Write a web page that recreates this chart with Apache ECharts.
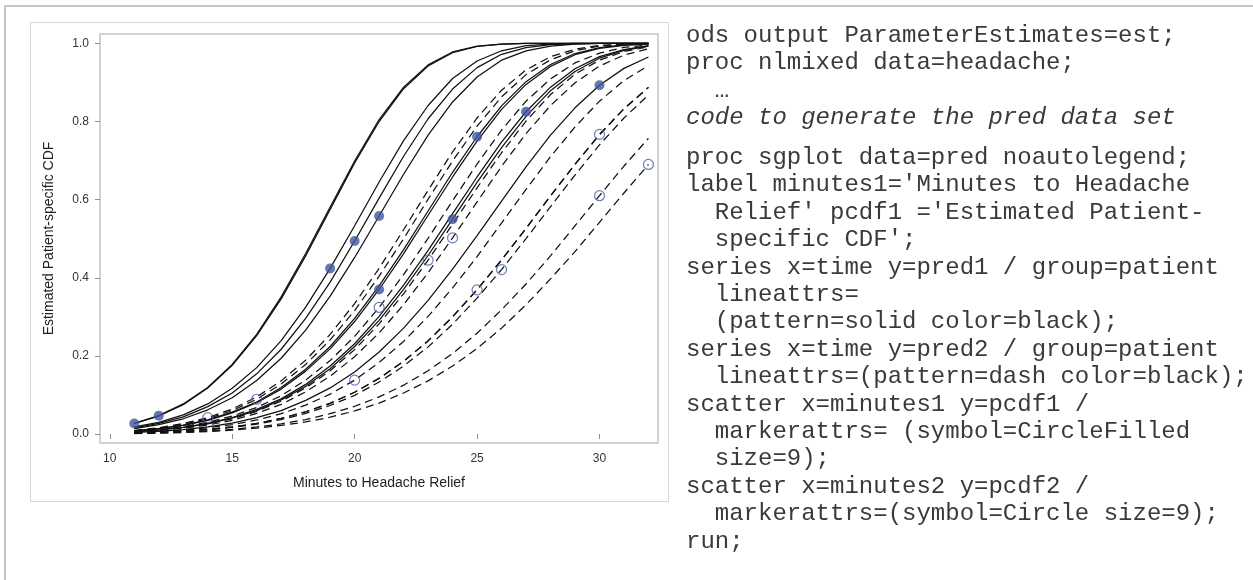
<!DOCTYPE html>
<html>
<head>
<meta charset="utf-8">
<title>Estimated Patient-specific CDF</title>
<script src="https://cdn.jsdelivr.net/npm/echarts@6/dist/echarts.min.js"></script>
<style>
  html, body { margin: 0; padding: 0; background: #fff; }
  #page { position: relative; width: 1253px; height: 580px; overflow: hidden; }
  #frame { position: absolute; left: 4px; top: 5px; width: 1300px; height: 700px;
           border-top: 2px solid #c6c6c6; border-left: 2px solid #c6c6c6; }
  #box { position: absolute; left: 30px; top: 22px; width: 639px; height: 480px;
         box-sizing: border-box; border: 1px solid #d6d6d6; }
  #chart { position: absolute; left: 0; top: 0; width: 1253px; height: 580px; }
  pre.code { position: absolute; left: 686px; margin: 0; font-family: "Liberation Mono", "Courier New", monospace;
             font-size: 24px; line-height: 27.4px; color: #3a3a3a; white-space: pre; }
  #code1 { top: 22px; }
  #code2 { top: 144px; }
</style>
</head>
<body>
<div id="page">
  <div id="frame"></div>
  <div id="box"></div>
  <div id="chart"></div>
<pre class="code" id="code1">ods output ParameterEstimates=est;
proc nlmixed data=headache;
  …
<i>code to generate the pred data set</i></pre>
<pre class="code" id="code2">proc sgplot data=pred noautolegend;
label minutes1='Minutes to Headache
  Relief' pcdf1 ='Estimated Patient-
  specific CDF';
series x=time y=pred1 / group=patient
  lineattrs=
  (pattern=solid color=black);
series x=time y=pred2 / group=patient
  lineattrs=(pattern=dash color=black);
scatter x=minutes1 y=pcdf1 /
  markerattrs= (symbol=CircleFilled
  size=9);
scatter x=minutes2 y=pcdf2 /
  markerattrs=(symbol=Circle size=9);
run;</pre>
</div>
<script>
// time grid shared by every predicted curve
const minutes = [11,12,13,14,15,16,17,18,19,20,21,22,23,24,25,26,27,28,29,30,31,32];

// group 1 patients (solid curves), labelled by minutes to relief (c = censored)
const p1_t11  = [0.027,0.046,0.075,0.118,0.176,0.252,0.346,0.456,0.575,0.694,0.800,0.884,0.942,0.976,0.992,0.998,1.000,1.000,1.000,1.000,1.000,1.000];
const p1_t12  = [0.027,0.047,0.077,0.119,0.178,0.255,0.351,0.462,0.581,0.699,0.805,0.888,0.945,0.978,0.993,0.998,1.000,1.000,1.000,1.000,1.000,1.000];
const p1_t19  = [0.018,0.030,0.049,0.077,0.117,0.170,0.239,0.325,0.424,0.533,0.645,0.751,0.841,0.910,0.955,0.981,0.994,0.998,1.000,1.000,1.000,1.000];
const p1_t20  = [0.016,0.027,0.044,0.070,0.105,0.154,0.217,0.296,0.389,0.494,0.604,0.711,0.807,0.883,0.938,0.972,0.989,0.997,0.999,1.000,1.000,1.000];
const p1_t21  = [0.014,0.024,0.039,0.062,0.093,0.137,0.194,0.266,0.353,0.452,0.558,0.665,0.765,0.850,0.914,0.957,0.981,0.993,0.998,1.000,1.000,1.000];
const p1_t21c = [0.008,0.014,0.022,0.035,0.054,0.080,0.115,0.161,0.218,0.288,0.370,0.462,0.560,0.658,0.750,0.831,0.895,0.941,0.971,0.987,0.995,0.999];
const p1_t24c = [0.006,0.010,0.017,0.026,0.041,0.060,0.087,0.122,0.167,0.224,0.291,0.370,0.457,0.550,0.644,0.733,0.813,0.879,0.928,0.962,0.982,0.993];
const p1_t25  = [0.008,0.014,0.023,0.036,0.056,0.082,0.119,0.166,0.224,0.296,0.379,0.472,0.571,0.670,0.761,0.840,0.902,0.946,0.974,0.989,0.996,0.999];
const p1_t27  = [0.006,0.011,0.017,0.027,0.042,0.063,0.090,0.127,0.174,0.231,0.301,0.381,0.470,0.564,0.658,0.747,0.825,0.888,0.935,0.966,0.984,0.994];
const p1_t30  = [0.004,0.007,0.011,0.018,0.028,0.042,0.060,0.086,0.118,0.159,0.210,0.271,0.342,0.422,0.508,0.596,0.684,0.765,0.835,0.893,0.936,0.965];

// group 2 patients (dashed curves)
const p2_t14  = [0.009,0.016,0.027,0.042,0.064,0.095,0.136,0.189,0.255,0.334,0.424,0.523,0.624,0.722,0.809,0.880,0.932,0.966,0.985,0.995,0.998,1.000];
const p2_t16  = [0.009,0.015,0.025,0.039,0.060,0.089,0.128,0.178,0.241,0.316,0.404,0.500,0.601,0.699,0.788,0.863,0.920,0.958,0.981,0.993,0.998,0.999];
const p2_t20c = [0.003,0.006,0.010,0.016,0.024,0.036,0.052,0.074,0.102,0.138,0.183,0.237,0.301,0.374,0.454,0.540,0.626,0.710,0.786,0.852,0.905,0.943];
const p2_t21  = [0.007,0.011,0.019,0.030,0.046,0.068,0.098,0.138,0.188,0.250,0.324,0.408,0.501,0.597,0.691,0.778,0.852,0.909,0.950,0.975,0.990,0.996];
const p2_t23  = [0.006,0.010,0.016,0.026,0.039,0.058,0.084,0.118,0.162,0.216,0.282,0.359,0.445,0.537,0.630,0.720,0.801,0.869,0.921,0.957,0.979,0.991];
const p2_t24  = [0.005,0.009,0.015,0.023,0.035,0.053,0.076,0.108,0.148,0.198,0.259,0.331,0.413,0.502,0.594,0.685,0.769,0.841,0.899,0.942,0.970,0.986];
const p2_t25c = [0.003,0.005,0.007,0.012,0.018,0.027,0.040,0.057,0.078,0.107,0.142,0.186,0.238,0.300,0.369,0.445,0.526,0.609,0.690,0.766,0.832,0.887];
const p2_t26c = [0.002,0.004,0.007,0.011,0.017,0.025,0.037,0.053,0.073,0.099,0.133,0.174,0.223,0.281,0.348,0.421,0.500,0.582,0.663,0.740,0.809,0.868];
const p2_t30  = [0.003,0.005,0.008,0.012,0.018,0.027,0.040,0.057,0.079,0.107,0.143,0.186,0.239,0.300,0.370,0.446,0.527,0.610,0.691,0.767,0.833,0.888];
const p2_t30c = [0.002,0.003,0.005,0.008,0.012,0.018,0.026,0.037,0.052,0.071,0.095,0.125,0.162,0.206,0.258,0.318,0.384,0.456,0.533,0.610,0.686,0.757];
const p2_t32c = [0.001,0.002,0.004,0.006,0.010,0.015,0.022,0.031,0.043,0.059,0.079,0.105,0.136,0.174,0.219,0.271,0.331,0.397,0.467,0.542,0.617,0.690];

// observed relief times with each patient's estimated CDF
const minutes1 = [11,12,19,20,21,21,24,25,27,30];
const pcdf1    = [0.027,0.047,0.424,0.494,0.558,0.370,0.550,0.761,0.825,0.893];
const minutes2 = [14,16,20,21,23,24,25,26,30,30,32];
const pcdf2    = [0.042,0.089,0.138,0.324,0.445,0.502,0.369,0.421,0.767,0.610,0.690];

// axis ticks
const xTicks = [10,15,20,25,30];
const yTicks = [0,0.2,0.4,0.6,0.8,1.0];

const solidCurves  = [p1_t11,p1_t12,p1_t19,p1_t20,p1_t21,p1_t21c,p1_t24c,p1_t25,p1_t27,p1_t30];
const dashedCurves = [p2_t14,p2_t16,p2_t20c,p2_t21,p2_t23,p2_t24,p2_t25c,p2_t26c,p2_t30,p2_t30c,p2_t32c];

const toPairs = (xs, ys) => xs.map((x, i) => [x, ys[i]]);
const font = '"Liberation Sans", Arial, sans-serif';

const series = [];
solidCurves.forEach(v => series.push({
  type: 'line', data: toPairs(minutes, v), symbol: 'none', silent: true, z: 2,
  lineStyle: { color: '#111', width: 1.25 }
}));
dashedCurves.forEach(v => series.push({
  type: 'line', data: toPairs(minutes, v), symbol: 'none', silent: true, z: 2,
  lineStyle: { color: '#111', width: 1.25, type: [8, 5] }
}));
series.push({
  type: 'scatter', data: toPairs(minutes1, pcdf1), symbol: 'circle', symbolSize: 10, z: 4,
  itemStyle: { color: '#41559c' }
});
series.push({
  type: 'scatter', data: toPairs(minutes2, pcdf2), symbol: 'circle', symbolSize: 10, z: 4,
  itemStyle: { color: 'rgba(0,0,0,0)', borderColor: '#4a5ea8', borderWidth: 1.2 }
});

const chart = echarts.init(document.getElementById('chart'), null, { renderer: 'canvas' });
chart.setOption({
  animation: false,
  backgroundColor: 'transparent',
  grid: { left: 100, top: 34, right: 595, bottom: 137, show: true,
          borderColor: '#c4c4c4', borderWidth: 1.5, backgroundColor: '#fff' },
  xAxis: {
    type: 'value', min: 9.6, max: 32.39,
    axisLine: { show: false },
    splitLine: { show: false },
    axisTick: { show: true, length: 5, customValues: xTicks, lineStyle: { color: '#8f8f8f' } },
    axisLabel: { customValues: xTicks, margin: 10, color: '#333', fontSize: 12, fontFamily: font }
  },
  yAxis: {
    type: 'value', min: -0.023, max: 1.024,
    axisLine: { show: false },
    splitLine: { show: false },
    axisTick: { show: true, length: 5, customValues: yTicks, lineStyle: { color: '#8f8f8f' } },
    axisLabel: { customValues: yTicks, margin: 11, color: '#333', fontSize: 12, fontFamily: font,
                 formatter: v => v.toFixed(1) }
  },
  graphic: [
    { type: 'text', x: 379, y: 483, silent: true,
      style: { text: 'Minutes to Headache Relief', fill: '#222', font: '14px ' + font,
               align: 'center', verticalAlign: 'middle' } },
    { type: 'text', x: 49, y: 238.5, rotation: Math.PI / 2, silent: true,
      style: { text: 'Estimated Patient-specific CDF', fill: '#222', font: '14px ' + font,
               align: 'center', verticalAlign: 'middle' } }
  ],
  series: series
});
</script>
</body>
</html>
